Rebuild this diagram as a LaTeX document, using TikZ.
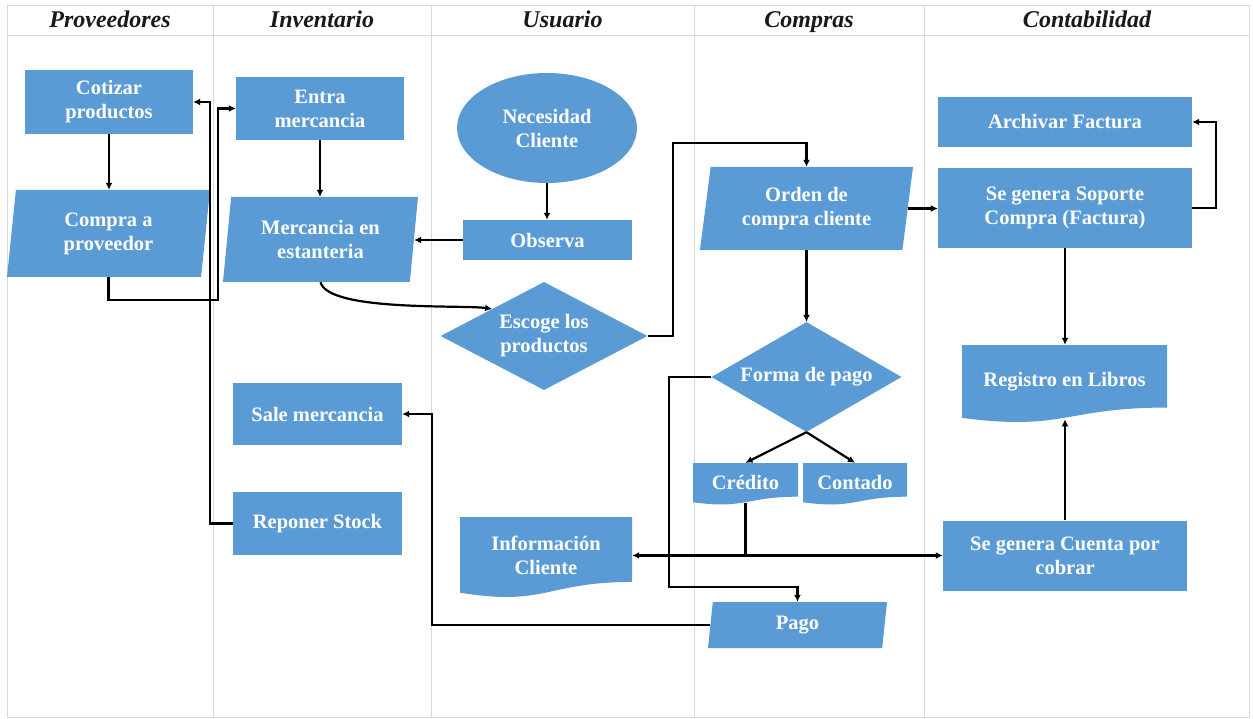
\documentclass[tikz,border=0pt]{standalone}
\usepackage{fontspec}
\setmainfont{Liberation Serif}
\usetikzlibrary{shapes.geometric,arrows.meta,calc}
\definecolor{boxblue}{HTML}{5B9BD5}
\definecolor{lanegray}{HTML}{D9D9D9}
\newcommand\boxfont{\bfseries\fontsize{20.5}{24}\selectfont}
\newcommand\headfont{\bfseries\itshape\fontsize{24}{28}\selectfont}
% name, x1, y1, x2, h, text
\newcommand\docnode[6]{%
  \fill[boxblue] (#2,#3) -- (#4,#3) -- (#4,{#3+0.802*#5})
    .. controls ({(#2+#4)/2},{#3+0.802*#5}) and ({(#2+#4)/2},{#3+1.107*#5}) .. (#2,{#3+0.934*#5}) -- cycle;
  \node[box, rectangle, fill=none, minimum width={#4-#2}, minimum height={0.95*#5}] (#1) at ({(#2+#4)/2},{#3+0.475*#5}) {#6};
}
\begin{document}
\begin{tikzpicture}[x=1pt,y=-1pt,
  box/.style={fill=boxblue, text=white, font=\boxfont, align=center, inner sep=0pt},
  proc/.style 2 args={box, rectangle, minimum width=#1, minimum height=#2},
  para/.style n args={4}{box, trapezium, trapezium left angle=#3, trapezium right angle=#4,
     trapezium stretches body, minimum width=#1, minimum height=#2},
  head/.style={font=\headfont, text=black!90, anchor=base},
  lane/.style={draw=lanegray, line width=0.8pt},
  arr/.style={draw=black, line width=2.2pt, -{Latex[length=7pt,width=7pt]}}]
\fill[white] (0,0) rectangle (1253,719);
\useasboundingbox (0,0) rectangle (1253,719);
% lanes
\draw[lane] (7,5) rectangle (1249,717);
\draw[lane] (7,35) -- (1249,35);
\foreach \x in {213,431,694,924} \draw[lane] (\x,5) -- (\x,717);
\node[head] (h1) at (110,28) {Proveedores};
\node[head] (h2) at (322,28) {Inventario};
\node[head] (h3) at (562.5,28) {Usuario};
\node[head] (h4) at (809,28) {Compras};
\node[head] (h5) at (1087,28) {Contabilidad};
% nodes
\node[proc={168}{64}] (cot) at (109,102) {Cotizar\\productos};
\node[para={203}{87}{78}{102}] (comp) at (108.5,233.5) {Compra a\\proveedor};
\node[proc={168}{63}] (ent) at (320,108.5) {Entra\\mercancia};
\node[para={195}{85}{78}{102}] (merc) at (320.5,239.5) {Mercancia en\\estanteria};
\node[proc={169}{62}] (sale) at (317.5,414) {Sale mercancia};
\node[proc={169}{63}] (rep) at (317.5,523.5) {Reponer Stock};
\node[box, ellipse, minimum width=180, minimum height=110] (nec) at (547,128) {Necesidad\\Cliente};
\node[proc={169}{40}] (obs) at (547.5,240) {Observa};
\node[box, diamond, aspect=1.9, minimum width=207, minimum height=108] (esc) at (544,336) {Escoge los\\productos};
\docnode{info}{460}{517}{632}{81}{Información\\Cliente}
\node[para={213}{83}{76}{104}] (ord) at (806.5,208.5) {Orden de\\compra cliente};
\node[box, diamond, aspect=1.9, minimum width=190, minimum height=110] (forma) at (806.5,377) {Forma de pago};
\docnode{cred}{693}{463}{798}{42}{Crédito}
\docnode{cont}{803}{463}{907}{42}{Contado}
\node[para={179}{46}{75}{105}] (pago) at (797.5,625) {Pago};
\node[proc={254}{50}] (arch) at (1065,122) {Archivar Factura};
\node[proc={254}{80}] (sop) at (1065,208) {Se genera Soporte\\Compra (Factura)};
\docnode{reg}{962}{345}{1167}{78}{Registro en Libros}
\node[proc={244}{70}] (cuenta) at (1065,555.5) {Se genera Cuenta por\\cobrar};
% connectors
\draw[arr] (cot.south) -- (cot.south |- comp.north);
\coordinate (j1) at (218,300);
\draw[arr] (comp.center |- comp.south) |- (j1) |- (ent.west);
\coordinate (j2) at (210,300);
\draw[arr] (rep.west) -| (j2) |- (cot.east);
\draw[arr] (ent.south) -- (ent.south |- merc.north);
\draw[arr] (nec.south) -- (nec.south |- obs.north);
\draw[arr] (obs.west) -- (obs.west -| merc.east);
\draw[arr] (merc.center |- merc.south) to[out=-75, in=172, looseness=0.45] (esc.north west);
\coordinate (j3) at (673,143);
\draw[arr] (esc.east) -| (j3) -| (ord.center |- ord.north);
\draw[arr] (ord.east) -- (ord.east -| sop.west);
\coordinate (j4) at (1216,160);
\draw[arr] (sop.east) -| (j4) |- (arch.east);
\draw[arr] (sop.south) -- (sop.south |- reg.north);
\draw[arr] (ord.center |- ord.south) -- (forma.north);
\draw[arr] (forma.south) -- (cred.north);
\draw[arr] (forma.south) -- (cont.north);
\draw[arr] (cred.south) |- (info.east);
\draw[arr] (cred.south) |- (cuenta.west);
\coordinate (j5) at (669,587);
\draw[arr] (forma.west) -| (j5) -| (pago.center |- pago.north);
\coordinate (j6) at (432,500);
\draw[arr] (pago.west) -| (j6) |- (sale.east);
\draw[arr] (cuenta.north) -- (cuenta.north |- reg.south);
\end{tikzpicture}
\end{document}
